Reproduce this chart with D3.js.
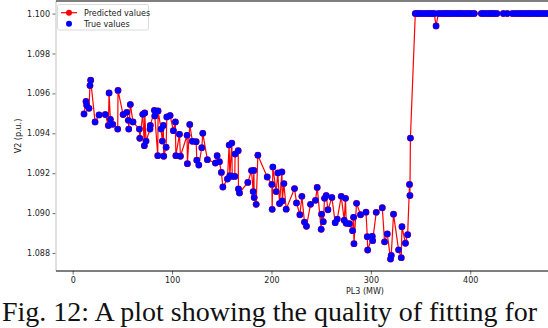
<!DOCTYPE html>
<html>
<head>
<meta charset="utf-8">
<script src="https://cdn.jsdelivr.net/npm/d3@7"></script>
<style>
  body { margin: 0; background: #fff; overflow: hidden; }
  svg { display: block; }
</style>
</head>
<body>
<div id="chart"></div>
<script>
// PL3 (MW) for every sample, sorted
const loadMW = [
  11.4, 13.4, 14.1, 16.4, 17.4, 18.1, 22.5, 26.5, 32.8, 35.9, 36.6, 37.9, 40.3, 45.3, 45.6,
  50.7, 54.4, 56.0, 56.4, 58.0, 60.7, 67.1, 67.5, 70.5, 72.1, 72.5, 73.8, 77.8, 78.1,
  82.2, 82.6, 85.6, 85.9, 88.9, 90.2, 91.2, 91.6, 94.0, 94.7, 98.0, 101.3, 103.3, 103.8,
  107.4, 108.4, 115.1, 115.4, 117.8, 120.4, 124.2, 124.9, 126.9, 129.9, 130.9, 135.5,
  143.6, 145.3, 147.6, 149.6, 151.1, 155.7, 157.4, 158.1, 160.1, 160.5, 163.1, 163.4,
  166.5, 166.8, 167.8, 176.2, 179.9, 181.6, 182.3, 182.6, 184.6, 186.3, 195.7, 200.4,
  200.7, 201.4, 204.7, 206.4, 208.1, 210.5, 210.9, 212.5, 214.8, 223.2, 225.2, 228.6,
  230.6, 233.2, 235.2, 239.3, 244.3, 246.0, 250.0, 250.4, 252.1, 253.4, 255.1, 256.8,
  260.8, 264.1, 266.2, 270.2, 273.2, 274.5, 275.2, 278.5, 281.6, 282.6, 283.0, 285.6,
  289.6, 295.1, 296.4, 296.8, 301.4, 301.8, 305.4, 311.5, 313.8, 316.5, 319.8, 320.5,
  322.8, 327.9, 330.6, 331.3, 334.8, 337.0, 338.9, 339.3, 339.8,
  344.7, 346.7, 348.7, 350.7, 353.3, 355.8, 357.8, 359.8, 361.8, 363.8, 365.6, 367.9,
  370.4, 372.9, 374.9, 376.9, 378.9, 380.9, 383.5, 386.0, 388.0, 390.0, 392.0, 394.6,
  397.1, 399.1, 401.6, 404.1, 411.2, 413.2, 415.7, 418.2, 420.2, 422.2, 424.2, 426.8,
  433.3, 437.3, 442.4, 445.4, 447.9, 450.5, 452.5, 455.0, 457.5, 459.5, 461.5, 464.0,
  466.6, 468.6, 470.6, 473.1, 475.6, 478.1, 481.0, 484.2, 487.5, 490.3, 494.1, 498.0
];

// V2 (p.u.) measured
const trueV = [
  1.09497, 1.09560, 1.09540, 1.09525, 1.09639, 1.09666, 1.09457, 1.09492, 1.09494, 1.09439, 1.09602, 1.09470, 1.09445, 1.09421, 1.09615,
  1.09494, 1.09505, 1.09465, 1.09421, 1.09544, 1.09457, 1.09421, 1.09375, 1.09495, 1.09338, 1.09502, 1.09361, 1.09421, 1.09439,
  1.09515, 1.09487, 1.09288, 1.09512, 1.09421, 1.09361, 1.09439, 1.09285, 1.09330, 1.09482, 1.09489, 1.09413, 1.09457, 1.09288,
  1.09395, 1.09285, 1.09390, 1.09248, 1.09444, 1.09360, 1.09358, 1.09265, 1.09241, 1.09328, 1.09400, 1.09268,
  1.09251, 1.09288, 1.09258, 1.09204, 1.09131, 1.09171, 1.09341, 1.09188, 1.09351, 1.09184, 1.09184, 1.09296,
  1.09313, 1.09121, 1.09101, 1.09154, 1.09213, 1.09108, 1.09214, 1.09078, 1.09044, 1.09290, 1.09181, 1.09144,
  1.09019, 1.09231, 1.09108, 1.09201, 1.09048, 1.09206, 1.09061, 1.09148, 1.09020, 1.09123, 1.09051, 1.08992,
  1.09084, 1.08955, 1.08934, 1.09044, 1.09064, 1.09129, 1.08919, 1.08995, 1.08957, 1.09074, 1.09088, 1.09017,
  1.09078, 1.08952, 1.08970, 1.09084, 1.08964, 1.09074, 1.08949, 1.08947, 1.08912, 1.08979, 1.08847, 1.09049,
  1.08992, 1.09005, 1.08882, 1.08815, 1.08884, 1.08862, 1.09004, 1.09027, 1.08856, 1.08896, 1.08770, 1.08788,
  1.08995, 1.08816, 1.08777, 1.08932, 1.08849, 1.08892, 1.09144, 1.09088, 1.09376,
  1.1, 1.1, 1.1, 1.1, 1.1, 1.1, 1.1, 1.1, 1.1, 1.1, 1.09938, 1.1,
  1.1, 1.1, 1.1, 1.1, 1.1, 1.1, 1.1, 1.1, 1.1, 1.1, 1.1, 1.1,
  1.1, 1.1, 1.1, 1.1, 1.1, 1.1, 1.1, 1.1, 1.1, 1.1, 1.1, 1.1,
  1.1, 1.1, 1.1, 1.1, 1.1, 1.1, 1.1, 1.1, 1.1, 1.1, 1.1, 1.1,
  1.1, 1.1, 1.1, 1.1, 1.1, 1.1, 1.1, 1.1, 1.1, 1.1, 1.1, 1.1
];

// V2 (p.u.) from the fitted model
const predV = [
  1.09497, 1.09560, 1.09540, 1.09525, 1.09639, 1.09666, 1.09457, 1.09492, 1.09494, 1.09439, 1.09602, 1.09470, 1.09445, 1.09421, 1.09615,
  1.09494, 1.09505, 1.09465, 1.09421, 1.09544, 1.09457, 1.09421, 1.09375, 1.09495, 1.09338, 1.09502, 1.09361, 1.09421, 1.09439,
  1.09515, 1.09487, 1.09288, 1.09512, 1.09421, 1.09361, 1.09439, 1.09285, 1.09330, 1.09482, 1.09489, 1.09413, 1.09457, 1.09288,
  1.09395, 1.09285, 1.09390, 1.09248, 1.09444, 1.09360, 1.09358, 1.09265, 1.09241, 1.09328, 1.09400, 1.09268,
  1.09251, 1.09288, 1.09258, 1.09204, 1.09131, 1.09171, 1.09341, 1.09188, 1.09351, 1.09184, 1.09184, 1.09296,
  1.09313, 1.09121, 1.09101, 1.09154, 1.09213, 1.09108, 1.09214, 1.09078, 1.09044, 1.09290, 1.09181, 1.09144,
  1.09019, 1.09231, 1.09108, 1.09201, 1.09048, 1.09206, 1.09061, 1.09148, 1.09020, 1.09123, 1.09051, 1.08992,
  1.09084, 1.08955, 1.08934, 1.09044, 1.09064, 1.09129, 1.08919, 1.08995, 1.08957, 1.09074, 1.09088, 1.09017,
  1.09078, 1.08952, 1.08970, 1.09084, 1.08964, 1.09074, 1.08949, 1.08947, 1.08912, 1.08979, 1.08847, 1.09049,
  1.08992, 1.09005, 1.08882, 1.08815, 1.08884, 1.08862, 1.09004, 1.09027, 1.08856, 1.08896, 1.08770, 1.08788,
  1.08995, 1.08816, 1.08777, 1.08932, 1.08849, 1.08892, 1.09144, 1.09088, 1.09376,
  1.1, 1.1, 1.1, 1.1, 1.1, 1.1, 1.1, 1.1, 1.1, 1.1, 1.09938, 1.1,
  1.1, 1.1, 1.1, 1.1, 1.1, 1.1, 1.1, 1.1, 1.1, 1.1, 1.1, 1.1,
  1.1, 1.1, 1.1, 1.1, 1.1, 1.1, 1.1, 1.1, 1.1, 1.1, 1.1, 1.1,
  1.1, 1.1, 1.1, 1.1, 1.1, 1.1, 1.1, 1.1, 1.1, 1.1, 1.1, 1.1,
  1.1, 1.1, 1.1, 1.1, 1.1, 1.1, 1.1, 1.1, 1.1, 1.1, 1.1, 1.1
];

const yTicks = [1.088, 1.090, 1.092, 1.094, 1.096, 1.098, 1.100];
const xTicks = [0, 100, 200, 300, 400];
const seriesNames = ['Predicted values', 'True values'];
const caption = 'Fig. 12: A plot showing the quality of fitting for';

const width = 548, height = 328;
// plot box (the right part of the figure is cut off by the page)
const box = { left: 56, right: 674, top: 1, bottom: 271 };

const svg = d3.select('#chart')
  .append('svg')
  .attr('width', width)
  .attr('height', height);

const x = d3.scaleLinear().domain([-16.8, 605]).range([box.left, box.right]);
const y = d3.scaleLinear().domain([1.0871, 1.10063]).range([box.bottom, box.top]);

const font = 'DejaVu Sans, sans-serif';

// axes
const yAxis = svg.append('g')
  .attr('transform', `translate(${box.left},0)`)
  .call(d3.axisLeft(y).tickValues(yTicks).tickFormat(d3.format('.3f')).tickSize(3.5).tickPadding(2.5));
const xAxis = svg.append('g')
  .attr('transform', `translate(0,${box.bottom})`)
  .call(d3.axisBottom(x).tickValues(xTicks).tickSize(3.5).tickPadding(2.5));

[yAxis, xAxis].forEach(g => {
  g.select('.domain').remove();
  g.selectAll('.tick line').attr('stroke', '#444').attr('stroke-width', 0.8);
  g.selectAll('.tick text')
    .attr('fill', '#222')
    .style('font-family', font)
    .style('font-size', '8px');
});

// data
const pts = loadMW.map((d, i) => ({ x: d, t: trueV[i], p: predV[i] }));
const plot = svg.append('g');

plot.append('path')
  .datum(pts)
  .attr('fill', 'none')
  .attr('stroke', '#ff0000')
  .attr('stroke-width', 1.2)
  .attr('d', d3.line().x(d => x(d.x)).y(d => y(d.p)));

plot.selectAll('circle.pred')
  .data(pts)
  .enter()
  .append('circle')
  .attr('class', 'pred')
  .attr('cx', d => x(d.x))
  .attr('cy', d => y(d.p))
  .attr('r', 3.4)
  .attr('fill', '#ff0000');

plot.selectAll('circle.true')
  .data(pts)
  .enter()
  .append('circle')
  .attr('class', 'true')
  .attr('cx', d => x(d.x))
  .attr('cy', d => y(d.t))
  .attr('r', 3.2)
  .attr('fill', '#0000ff');

// spines
svg.append('line')
  .attr('x1', box.left).attr('x2', box.left).attr('y1', box.top).attr('y2', box.bottom)
  .attr('stroke', '#d6d6d6').attr('stroke-width', 1.5);
svg.append('line')
  .attr('x1', box.left).attr('x2', box.right).attr('y1', box.top).attr('y2', box.top)
  .attr('stroke', '#000').attr('stroke-width', 1.2);
svg.append('line')
  .attr('x1', box.left).attr('x2', box.right).attr('y1', box.bottom).attr('y2', box.bottom)
  .attr('stroke', '#000').attr('stroke-width', 1.2);

// legend
const legend = svg.append('g');
legend.append('rect')
  .attr('x', 57.5).attr('y', 4.5)
  .attr('width', 91).attr('height', 25.5)
  .attr('rx', 2)
  .attr('fill', '#fff').attr('fill-opacity', 0.8)
  .attr('stroke', '#d0d0d0').attr('stroke-width', 0.8);

const rows = legend.selectAll('g.row')
  .data(seriesNames)
  .enter()
  .append('g')
  .attr('class', 'row')
  .attr('transform', (d, i) => `translate(0,${12.7 + i * 11})`);

rows.filter((d, i) => i === 0).append('line')
  .attr('x1', 61).attr('x2', 77)
  .attr('stroke', '#ff0000').attr('stroke-width', 1.2);
rows.append('circle')
  .attr('cx', 69)
  .attr('r', 3)
  .attr('fill', (d, i) => i === 0 ? '#ff0000' : '#0000ff');
rows.append('text')
  .attr('x', 84)
  .attr('dy', '0.35em')
  .attr('fill', '#222')
  .style('font-family', font)
  .style('font-size', '8px')
  .text(d => d);

// axis titles
svg.append('text')
  .attr('x', 365).attr('y', 294)
  .attr('text-anchor', 'middle')
  .attr('fill', '#222')
  .style('font-family', font)
  .style('font-size', '8px')
  .text('PL3 (MW)');

svg.append('text')
  .attr('transform', 'translate(21,136) rotate(-90)')
  .attr('text-anchor', 'middle')
  .attr('fill', '#222')
  .style('font-family', font)
  .style('font-size', '8px')
  .text('V2 (p.u.)');

// caption under the figure
svg.append('text')
  .attr('x', 2).attr('y', 321)
  .attr('fill', '#111')
  .style('font-family', 'Liberation Serif, Times New Roman, serif')
  .style('font-size', '28px')
  .text(caption);
</script>
</body>
</html>
